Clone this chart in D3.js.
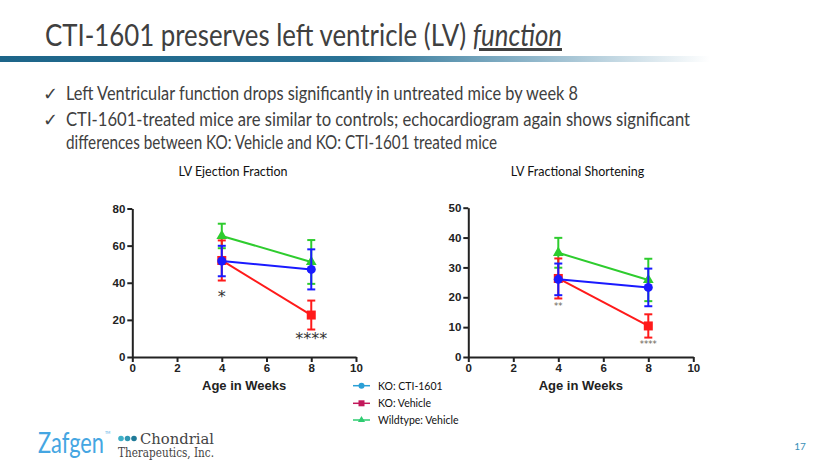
<!DOCTYPE html>
<html><head><meta charset="utf-8">
<script src="https://cdn.jsdelivr.net/npm/d3@7"></script>
<style>body{margin:0;background:#fff}svg{display:block}</style>
</head><body><svg id="c" width="840" height="473"></svg>
<script>
// ---------- data ----------
const weeks = [4, 8];
const seriesNames = ["KO: CTI-1601", "KO: Vehicle", "Wildtype: Vehicle"];
const xTicks = [0, 2, 4, 6, 8, 10];
const efTicks = [0, 20, 40, 60, 80];
const fsTicks = [0, 10, 20, 30, 40, 50];

const efCti = [51.7, 47.2], efCtiErr = [8.2, 10.8];
const efVeh = [52.0, 22.6], efVehErr = [10.8, 7.8];
const efWt  = [65.2, 51.2], efWtErr  = [6.6, 11.8];

const fsCti = [26.0, 23.3], fsCtiErr = [5.3, 6.3];
const fsVeh = [26.3, 10.4], fsVehErr = [6.7, 3.9];
const fsWt  = [34.9, 25.8], fsWtErr  = [5.0, 7.1];

const efStars = [{week: 4, v: 33.4, label: "*"}, {week: 8, v: 10.4, label: "****"}];
const fsStars = [{week: 4, v: 17.1, label: "**"}, {week: 8, v: 4.3, label: "****"}];

const bullets = [
  "Left Ventricular function drops significantly in untreated mice by week 8",
  "CTI-1601-treated mice are similar to controls; echocardiogram again shows significant",
  "differences between KO: Vehicle and KO: CTI-1601 treated mice"
];

// ---------- drawing ----------
const svg = d3.select("#c");
const defs = svg.append("defs");
const grad = defs.append("linearGradient").attr("id", "bar").attr("x1", "0").attr("x2", "1");
grad.append("stop").attr("offset", "0").attr("stop-color", "#1d6589");
grad.append("stop").attr("offset", "0.5").attr("stop-color", "#2a7396");
grad.append("stop").attr("offset", "0.75").attr("stop-color", "#8fb6ca");
grad.append("stop").attr("offset", "1").attr("stop-color", "#ffffff");

// title
const title = svg.append("text").attr("x", 45).attr("y", 46)
  .attr("font-family", "Lato, 'Open Sans', sans-serif").attr("font-size", 30)
  .attr("fill", "#404040").attr("textLength", 517).attr("lengthAdjust", "spacingAndGlyphs");
title.append("tspan").text("CTI-1601 preserves left ventricle (LV) ");
title.append("tspan").attr("font-style", "italic").attr("text-decoration", "underline").text("function");

svg.append("rect").attr("x", 0).attr("y", 56).attr("width", 710).attr("height", 6).attr("fill", "url(#bar)");

// bullets
const bulletY = [100, 126, 149];
const bulletW = [512, 624, 431];
bullets.forEach((t, i) => {
  if (i < 2) svg.append("text").attr("x", 43).attr("y", bulletY[i])
    .attr("font-family", "DejaVu Sans").attr("font-size", 18).attr("fill", "#404040").text("\u2713");
  svg.append("text").attr("x", 66).attr("y", bulletY[i])
    .attr("font-family", "Lato, 'Open Sans', sans-serif").attr("font-size", 18.5).attr("fill", "#404040")
    .attr("textLength", bulletW[i]).attr("lengthAdjust", "spacingAndGlyphs").text(t);
});

const colors = {cti: "#1a1aff", veh: "#ff1a1a", wt: "#2ecc2e"};

function chart(cfg) {
  const x = d3.scaleLinear().domain([0, 10]).range(cfg.xr);
  const y = d3.scaleLinear().domain([0, cfg.ymax]).range(cfg.yr);
  const g = svg.append("g");

  g.append("text").attr("x", cfg.titleX).attr("y", 176).attr("text-anchor", "middle")
    .attr("font-family", "Lato, sans-serif").attr("font-size", 12.5).attr("fill", "#111").text(cfg.title);

  const axStyle = sel => {
    sel.select(".domain").attr("stroke", "#222").attr("stroke-width", 2);
    sel.selectAll(".tick line").attr("stroke", "#222").attr("stroke-width", 2);
    sel.selectAll(".tick text").attr("font-family", "'Liberation Sans', Arial, sans-serif")
      .attr("font-weight", "bold").attr("font-size", 11.5).attr("fill", "#222");
  };
  g.append("g").attr("transform", `translate(0,${cfg.yr[0]})`)
    .call(d3.axisBottom(x).tickValues(xTicks).tickSize(5).tickSizeOuter(0).tickPadding(2))
    .call(axStyle);
  g.append("g").attr("transform", `translate(${cfg.xr[0]},0)`)
    .call(d3.axisLeft(y).tickValues(cfg.ticks).tickSize(5).tickSizeOuter(0).tickPadding(2))
    .call(axStyle);

  g.append("text").attr("x", (cfg.xr[0] + cfg.xr[1]) / 2 + 0).attr("y", 390).attr("text-anchor", "middle")
    .attr("font-family", "'Liberation Sans', Arial, sans-serif").attr("font-weight", "bold")
    .attr("font-size", 13).attr("fill", "#222").text("Age in Weeks");

  const line = d3.line().x((d, i) => x(weeks[i])).y(d => y(d));
  const order = [["wt", cfg.wt, cfg.wtErr], ["veh", cfg.veh, cfg.vehErr], ["cti", cfg.cti, cfg.ctiErr]];
  order.forEach(([k, vals, errs]) => {
    const c = colors[k];
    g.append("path").datum(vals).attr("d", line).attr("fill", "none").attr("stroke", c).attr("stroke-width", 2);
    vals.forEach((v, i) => {
      const cx = x(weeks[i]);
      const top = y(v + errs[i]), bot = y(v - errs[i]);
      g.append("line").attr("x1", cx).attr("x2", cx).attr("y1", top).attr("y2", bot).attr("stroke", c).attr("stroke-width", 2);
      [top, bot].forEach(yy => g.append("line").attr("x1", cx - 4).attr("x2", cx + 4).attr("y1", yy).attr("y2", yy)
        .attr("stroke", c).attr("stroke-width", 2));
      const cy = y(v);
      if (k === "cti") g.append("circle").attr("cx", cx).attr("cy", cy).attr("r", 4.5).attr("fill", c);
      else if (k === "veh") g.append("rect").attr("x", cx - 4.5).attr("y", cy - 4.5).attr("width", 9).attr("height", 9).attr("fill", c);
      else g.append("path").attr("d", d3.symbol(d3.symbolTriangle, 50)()).attr("transform", `translate(${cx},${cy})`).attr("fill", c);
    });
  });

  cfg.stars.forEach(s => {
    g.append("text").attr("x", x(s.week)).attr("y", y(s.v) + cfg.starDy).attr("text-anchor", "middle")
      .attr("dominant-baseline", "central")
      .attr("font-family", "'DejaVu Sans', sans-serif").attr("font-size", cfg.starSize)
      .attr("fill", cfg.starColor).text(s.label);
  });
}

chart({xr: [132.3, 356], yr: [357, 208.5], ymax: 80, ticks: efTicks, title: "LV Ejection Fraction", titleX: 233,
  cti: efCti, ctiErr: efCtiErr, veh: efVeh, vehErr: efVehErr, wt: efWt, wtErr: efWtErr,
  stars: efStars, starSize: 16, starDy: 1, starColor: "#333"});
chart({xr: [468.3, 693.3], yr: [357, 207.7], ymax: 50, ticks: fsTicks, title: "LV Fractional Shortening", titleX: 577.5,
  cti: fsCti, ctiErr: fsCtiErr, veh: fsVeh, vehErr: fsVehErr, wt: fsWt, wtErr: fsWtErr,
  stars: fsStars, starSize: 8.5, starDy: 0, starColor: "#6b6254"});

// legend
const legColors = ["#2a9fd6", "#c2185b", "#2ecc71"];
const legY = [385.7, 403.3, 420];
seriesNames.forEach((n, i) => {
  const cy = legY[i], c = legColors[i];
  svg.append("line").attr("x1", 353).attr("x2", 370).attr("y1", cy).attr("y2", cy).attr("stroke", c).attr("stroke-width", 1.5);
  if (i === 0) svg.append("circle").attr("cx", 361.5).attr("cy", cy).attr("r", 3).attr("fill", c);
  else if (i === 1) svg.append("rect").attr("x", 358.5).attr("y", cy - 3).attr("width", 6).attr("height", 6).attr("fill", c);
  else svg.append("path").attr("d", d3.symbol(d3.symbolTriangle, 22)()).attr("transform", `translate(361.5,${cy})`).attr("fill", c);
  svg.append("text").attr("x", 378).attr("y", cy).attr("dominant-baseline", "central")
    .attr("font-family", "Lato, sans-serif").attr("font-size", 10.5).attr("fill", "#111").text(n);
});

// logos
const zaf = svg.append("text").attr("x", 38).attr("y", 453).attr("font-family", "Lato, sans-serif")
  .attr("fill", "#45a6e2");
zaf.append("tspan").attr("font-size", 29).attr("textLength", 66).attr("lengthAdjust", "spacingAndGlyphs").text("Zafgen");
zaf.append("tspan").attr("font-size", 3.5).attr("dx", 1).attr("dy", -19).text("TM");
["#3fb0c8", "#2f97b3", "#1f7a98"].forEach((c, i) =>
  svg.append("circle").attr("cx", 121 + i * 6.5).attr("cy", 438.5).attr("r", 2.8).attr("fill", c));
svg.append("text").attr("x", 140).attr("y", 443.5).attr("font-family", "'DejaVu Serif', serif")
  .attr("font-size", 14.5).attr("fill", "#444").attr("textLength", 74).attr("lengthAdjust", "spacingAndGlyphs").text("Chondrial");
svg.append("text").attr("x", 118).attr("y", 457).attr("font-family", "'DejaVu Serif', serif")
  .attr("font-size", 12).attr("fill", "#444").attr("textLength", 96).attr("lengthAdjust", "spacingAndGlyphs").text("Therapeutics, Inc.");

svg.append("text").attr("x", 800).attr("y", 450).attr("text-anchor", "middle").attr("font-family", "Lato, sans-serif")
  .attr("font-size", 10).attr("fill", "#3a8fb7").text("17");
</script></body></html>
